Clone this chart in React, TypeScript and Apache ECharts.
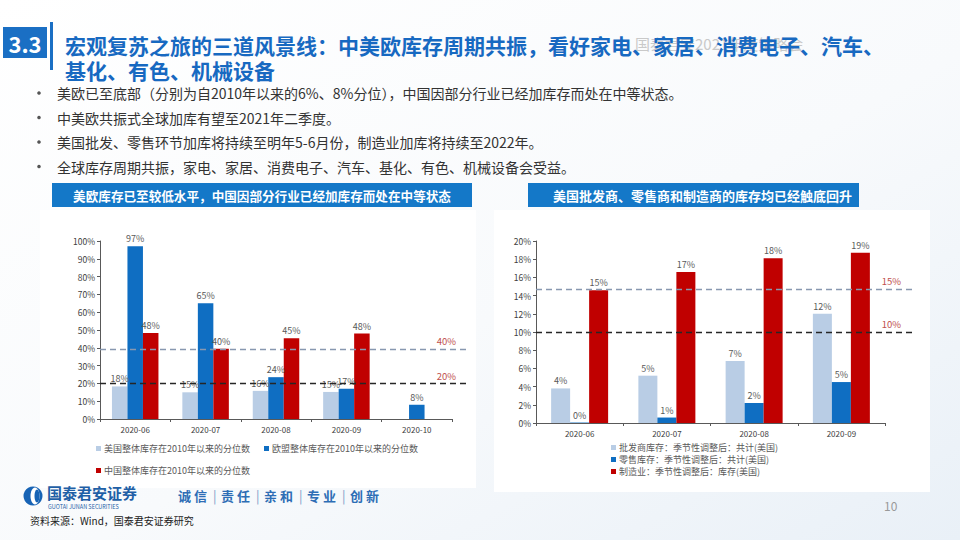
import React, { useEffect, useRef } from 'react';
import * as echarts from 'echarts';

// ---------- data ----------
const leftCategories = ['2020-06', '2020-07', '2020-08', '2020-09', '2020-10'];
const usName = '美国整体库存在2010年以来的分位数';
const euName = '欧盟整体库存在2010年以来的分位数';
const cnName = '中国整体库存在2010年以来的分位数';
const usInventory = [18.3, 15.0, 15.8, 15.2, null];
const euInventory = [97.0, 65.0, 23.5, 17.0, 8.0];
const cnInventory = [48.3, 39.5, 45.4, 48.0, null];
const leftRefValues = [39.3, 19.9];
const leftRefLabels = ['40%', '20%'];
const leftMax = 100;
const leftInterval = 10;

const rightCategories = ['2020-06', '2020-07', '2020-08', '2020-09'];
const wholesaleName = '批发商库存：季节性调整后：共计(美国)';
const retailName = '零售库存：季节性调整后：共计(美国)';
const mfgName = '制造业：季节性调整后：库存(美国)';
const wholesale = [3.8, 5.2, 6.8, 12.0];
const retail = [0.05, 0.6, 2.2, 4.5];
const manufacturing = [14.6, 16.6, 18.1, 18.7];
const rightRefValues = [14.7, 10.0];
const rightRefLabels = ['15%', '10%'];
const rightMax = 20;
const rightInterval = 2;

const titleLines = [
  '宏观复苏之旅的三道风景线：中美欧库存周期共振，看好家电、家居、消费电子、汽车、',
  '基化、有色、机械设备',
];
const bullets = [
  '美欧已至底部（分别为自2010年以来的6%、8%分位），中国因部分行业已经加库存而处在中等状态。',
  '中美欧共振式全球加库有望至2021年二季度。',
  '美国批发、零售环节加库将持续至明年5-6月份，制造业加库将持续至2022年。',
  '全球库存周期共振，家电、家居、消费电子、汽车、基化、有色、机械设备会受益。',
];
const leftHeader = '美欧库存已至较低水平，中国因部分行业已经加库存而处在中等状态';
const rightHeader = '美国批发商、零售商和制造商的库存均已经触底回升';
const sloganWords = ['诚 信', '责 任', '亲 和', '专 业', '创 新'];

// ---------- styles ----------
const FONT = '"Noto Sans CJK SC", "Noto Sans", sans-serif';
const LIGHT = '#b9cde5';
const BLUE = '#0f6ec2';
const RED = '#c00000';
const HEAD = '#1478c8';
const TITLE = '#1769c1';
const AXIS = '#595959';
const LABEL = '#595959';
const REF_COLORS = ['#8898b0', '#262626'];

const GL = { left: 100, top: 241, width: 352, height: 178 };
const GR = { left: 536, top: 241, width: 349, height: 182 };

const pct = (p: any) => (p.value == null ? '' : Math.round(p.value) + '%');

function barSeries(name: string, data: (number | null)[], idx: number, color: string, width: number) {
  return {
    name,
    type: 'bar',
    xAxisIndex: idx,
    yAxisIndex: idx,
    data,
    barWidth: width,
    barGap: '0%',
    itemStyle: { color },
    label: { show: true, position: 'top', distance: 3, fontSize: 9, color: LABEL, fontFamily: FONT, formatter: pct },
  };
}

function refSeries(idx: number, startX: number, endX: number, values: number[], labels: string[]) {
  return {
    name: 'ref' + idx,
    type: 'line',
    xAxisIndex: idx,
    yAxisIndex: idx,
    data: [],
    clip: false,
    silent: true,
    markLine: {
      silent: true,
      symbol: ['none', 'none'],
      animation: false,
      data: values.map((v, i) => [
        {
          x: startX,
          yAxis: v,
          lineStyle: { color: REF_COLORS[i], type: [6, 4], width: 1.3 },
          label: {
            show: true,
            position: 'insideEndTop',
            formatter: labels[i],
            color: '#c0504d',
            fontSize: 9.5,
            fontFamily: FONT,
            distance: [14, 3],
          },
        },
        { x: endX, yAxis: v },
      ]),
    },
  };
}

function xAxisCfg(idx: number, data: string[]) {
  return {
    type: 'category',
    gridIndex: idx,
    data,
    axisLine: { show: true, lineStyle: { color: AXIS, width: 1 } },
    axisTick: { show: true, length: 3, lineStyle: { color: AXIS } },
    axisLabel: { fontSize: 8, color: '#404040', margin: 6, fontFamily: FONT },
    splitLine: { show: false },
  };
}

function yAxisCfg(idx: number, max: number, interval: number) {
  return {
    type: 'value',
    gridIndex: idx,
    min: 0,
    max,
    interval,
    axisLine: { show: true, lineStyle: { color: AXIS, width: 1 } },
    axisTick: { show: true, length: 3, lineStyle: { color: AXIS } },
    axisLabel: { fontSize: 8.5, color: '#404040', margin: 5, formatter: '{value}%', fontFamily: FONT },
    splitLine: { show: false },
  };
}

const legendBase = {
  icon: 'rect',
  itemWidth: 5,
  itemHeight: 5,
  padding: 0,
  selectedMode: false,
  textStyle: { fontSize: 9, color: LABEL, fontFamily: FONT, padding: [0, 0, 0, -2] },
};

function txt(text: string, x: number, y: number, size: number, fill: string, weight: any = 'normal', align = 'left') {
  return {
    type: 'text',
    x,
    y,
    silent: true,
    style: {
      text,
      fontSize: size,
      fontWeight: weight,
      fill,
      fontFamily: FONT,
      align,
      verticalAlign: 'middle',
      lineHeight: Math.round(size * 1.1),
    },
  };
}

function buildGraphics() {
  const g: any[] = [];
  // faint background texture
  g.push({
    type: 'rect',
    z: -10,
    shape: { x: 0, y: 0, width: 960, height: 540 },
    style: {
      fill: new echarts.graphic.LinearGradient(0, 0, 1, 1, [
        { offset: 0, color: '#ffffff' },
        { offset: 0.55, color: '#f8fafc' },
        { offset: 1, color: '#e9f0f7' },
      ]),
    },
    silent: true,
  });
  g.push({ type: 'rect', z: -9, shape: { x: 40, y: 210, width: 436, height: 278 }, style: { fill: '#ffffff' }, silent: true });
  g.push({ type: 'rect', z: -9, shape: { x: 494, y: 210, width: 436, height: 282 }, style: { fill: '#ffffff' }, silent: true });

  // section number
  g.push({ type: 'rect', shape: { x: 3, y: 27, width: 44, height: 31 }, style: { fill: '#1a6fc4' }, silent: true });
  g.push(txt('3.3', 25, 43, 22, '#ffffff', 'bold', 'center'));
  g.push({ type: 'rect', shape: { x: 50, y: 22, width: 3, height: 48 }, style: { fill: '#1a6fc4' }, silent: true });

  // watermark
  g.push(txt('国泰君安2021年度策略会', 635, 43, 15, '#c9c9c9'));

  // title
  titleLines.forEach((t, i) => g.push(txt(t, 65, 45 + i * 25, 21, TITLE, 'bold')));

  // bullets
  bullets.forEach((b, i) => {
    const y = 93 + i * 24.5;
    g.push({ type: 'circle', shape: { cx: 39, cy: y, r: 1.8 }, style: { fill: '#555' }, silent: true });
    g.push(txt(b, 57, y, 14, '#333333'));
  });

  // chart headers
  g.push({ type: 'rect', shape: { x: 52, y: 183, width: 420, height: 24 }, style: { fill: HEAD }, silent: true });
  g.push(txt(leftHeader, 262, 195, 12.6, '#ffffff', 'bold', 'center'));
  g.push({ type: 'rect', shape: { x: 528, y: 183, width: 331, height: 24 }, style: { fill: HEAD }, silent: true });
  g.push(txt(rightHeader, 553, 195, 13, '#ffffff', 'bold'));

  // footer logo
  g.push({ type: 'circle', shape: { cx: 33, cy: 496, r: 9.5 }, style: { fill: '#1763b5' }, silent: true });
  g.push({ type: 'ellipse', shape: { cx: 35, cy: 496, rx: 4.5, ry: 8.5 }, style: { fill: '#ffffff' }, silent: true });
  g.push({ type: 'ellipse', shape: { cx: 37, cy: 496, rx: 2.5, ry: 6.5 }, style: { fill: '#1763b5' }, silent: true });
  g.push(txt('国泰君安证券', 47, 492, 15, '#1f5fa6', 'bold'));
  g.push(txt('GUOTAI JUNAN SECURITIES', 48, 507, 5.5, '#1f5fa6'));
  sloganWords.forEach((w, i) => {
    const x = 178 + i * 43;
    if (i > 0) g.push(txt('|', x - 8, 495, 13, '#7f9cc8'));
    g.push(txt(w, x, 495, 13, '#2d6db5', 'bold'));
  });
  g.push(txt('资料来源：Wind，国泰君安证券研究', 30, 520, 10, '#222222'));
  g.push(txt('10', 884, 505, 12, '#999999'));
  return g;
}

export default function App() {
  const ref = useRef<HTMLDivElement>(null);
  useEffect(() => {
    if (!ref.current) return;
    const chart = echarts.init(ref.current, undefined, { renderer: 'svg' });
    chart.setOption({
      animation: false,
      backgroundColor: '#ffffff',
      textStyle: { fontFamily: FONT },
      grid: [
        { ...GL, containLabel: false },
        { ...GR, containLabel: false },
      ],
      xAxis: [xAxisCfg(0, leftCategories), xAxisCfg(1, rightCategories)],
      yAxis: [yAxisCfg(0, leftMax, leftInterval), yAxisCfg(1, rightMax, rightInterval)],
      legend: [
        { ...legendBase, data: [usName, euName], left: 96, top: 444, itemGap: 14 },
        { ...legendBase, data: [cnName], left: 96, top: 466 },
        { ...legendBase, data: [wholesaleName, retailName, mfgName], orient: 'vertical', left: 611, top: 443, itemGap: 3 },
      ],
      series: [
        barSeries(usName, usInventory, 0, LIGHT, 15.5),
        barSeries(euName, euInventory, 0, BLUE, 15.5),
        barSeries(cnName, cnInventory, 0, RED, 15.5),
        barSeries(wholesaleName, wholesale, 1, LIGHT, 19),
        barSeries(retailName, retail, 1, BLUE, 19),
        barSeries(mfgName, manufacturing, 1, RED, 19),
        refSeries(0, GL.left, GL.left + 370, leftRefValues, leftRefLabels),
        refSeries(1, GR.left, GR.left + 379, rightRefValues, rightRefLabels),
      ],
      graphic: buildGraphics(),
    });
    return () => chart.dispose();
  }, []);
  return (
    <div
      ref={ref}
      style={{ position: 'fixed', left: 0, top: 0, width: 960, height: 540, background: '#fff' }}
    />
  );
}
